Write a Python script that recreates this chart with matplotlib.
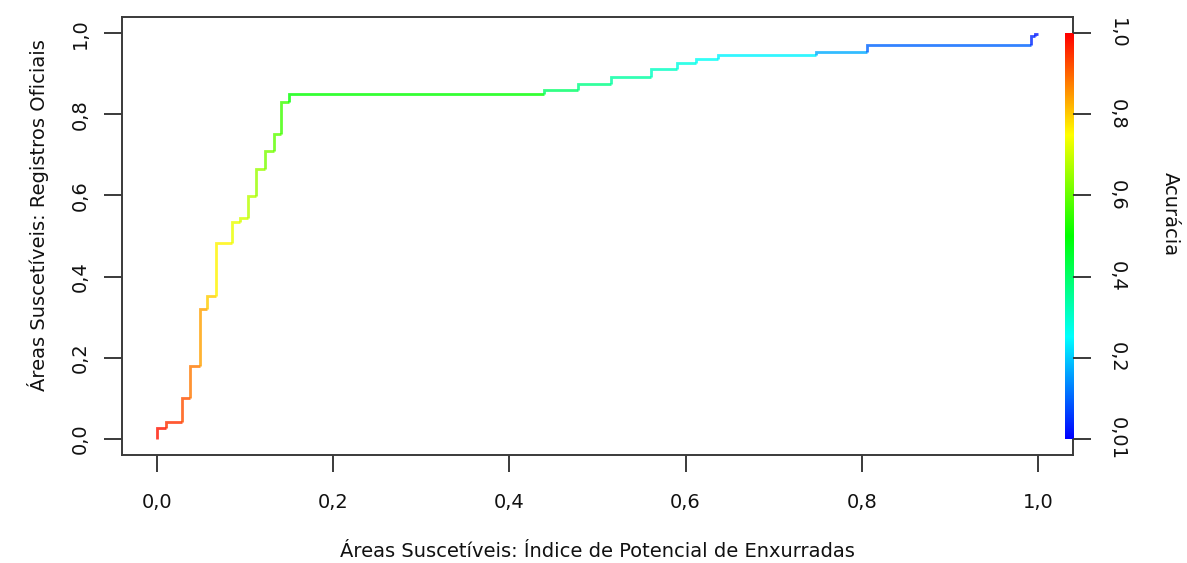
import numpy as np
import matplotlib
matplotlib.use("Agg")
import matplotlib.pyplot as plt
from matplotlib.collections import LineCollection
from matplotlib.colors import ListedColormap, Normalize, hsv_to_rgb

plt.rcParams['font.family'] = ['DejaVu Sans']

# pontos da curva (x onde sobe o degrau, y depois do degrau, acuracia do ponto)
fpr = [0.0, 0.0102, 0.0284, 0.0378, 0.0484, 0.0574, 0.0665, 0.0851, 0.0946,
       0.1033, 0.1127, 0.1229, 0.1324, 0.1411, 0.1494, 0.4396, 0.4774, 0.5153,
       0.5611, 0.5902, 0.6118, 0.6368, 0.748, 0.806, 0.992, 0.9966, 1.0]
tpr = [0.0265, 0.041, 0.1016, 0.180, 0.320, 0.353, 0.483, 0.535, 0.545,
       0.599, 0.665, 0.709, 0.752, 0.830, 0.8495, 0.859, 0.874, 0.892,
       0.911, 0.926, 0.936, 0.946, 0.954, 0.971, 0.992, 0.998, 0.998]
acuracia = [0.98, 0.95, 0.92, 0.88, 0.84, 0.80, 0.76, 0.73, 0.71,
            0.68, 0.65, 0.62, 0.59, 0.56, 0.50, 0.40, 0.37, 0.34,
            0.31, 0.28, 0.26, 0.24, 0.17, 0.10, 0.04, 0.02, 0.01]

xticks = [0.0, 0.2, 0.4, 0.6, 0.8, 1.0]
xticklabels = ["0,0", "0,2", "0,4", "0,6", "0,8", "1,0"]
yticks = [0.0, 0.2, 0.4, 0.6, 0.8, 1.0]
yticklabels = ["0,0", "0,2", "0,4", "0,6", "0,8", "1,0"]
cbar_labels = ["0,01", "0,2", "0,4", "0,6", "0,8", "1,0"]

# paleta arco-iris (vermelho -> azul), como rainbow(end=4/6) do R
h = np.linspace(2 / 3, 0, 256)
cmap = ListedColormap(hsv_to_rgb(np.column_stack([h, np.ones(256), np.ones(256)])))
norm = Normalize(0, 1)

# montar segmentos em degrau
segs = []
cols = []
y_prev = 0.0
for i in range(len(fpr)):
    x_next = fpr[i + 1] if i + 1 < len(fpr) else fpr[i]
    segs.append([(fpr[i], y_prev), (fpr[i], tpr[i]), (x_next, tpr[i])])
    cols.append(acuracia[i])
    y_prev = tpr[i]

fig = plt.figure(figsize=(11.87, 5.63), dpi=100)
ax = fig.add_axes([0.1025, 0.1918, 0.8017, 0.778])

lc = LineCollection(segs, cmap=cmap, norm=norm, linewidths=2.0, alpha=0.8,
                    capstyle='butt', joinstyle='miter')
lc.set_array(np.array(cols))
ax.add_collection(lc)

ax.set_xlim(-0.04, 1.04)
ax.set_ylim(-0.04, 1.04)

cor = '#3a3a3a'
for s in ax.spines.values():
    s.set_color(cor)
    s.set_linewidth(1.4)

ax.set_xticks(xticks)
ax.set_xticklabels(xticklabels)
ax.set_yticks(yticks)
ax.set_yticklabels(yticklabels, rotation=90, va='center')
ax.tick_params(axis='x', length=12, width=1.4, color=cor, pad=15, labelsize=14, labelcolor='#111111')
ax.tick_params(axis='y', length=13, width=1.4, color=cor, pad=10, labelsize=14, labelcolor='#111111')

ax.set_xlabel("Áreas Suscetíveis: Índice de Potencial de Enxurradas", fontsize=14, color='#111111', labelpad=22)
ax.set_ylabel("Áreas Suscetíveis: Registros Oficiais", fontsize=14, color='#111111')
ax.yaxis.set_label_coords(-0.076, 0.548)

# barra de cores dentro do grafico, a direita
cax = ax.inset_axes([1.031, 0.0, 0.0094, 1.0], transform=ax.transData)
grad = np.linspace(0, 1, 256).reshape(-1, 1)
cax.imshow(grad, aspect='auto', cmap=cmap, norm=norm, origin='lower', extent=[0, 1, 0, 1])
cax.set_axis_off()

ax2 = ax.twinx()
ax2.set_ylim(ax.get_ylim())
ax2.set_yticks(yticks)
ax2.set_yticklabels(cbar_labels, rotation=270, va='center')
ax2.tick_params(axis='y', length=13, width=1.4, color=cor, pad=12, labelsize=14, labelcolor='#111111')
for s in ax2.spines.values():
    s.set_visible(False)
ax2.set_ylabel("Acurácia", rotation=270, fontsize=14, color='#111111')
ax2.yaxis.set_label_coords(1.112, 0.55)

fig.savefig("out.png", dpi=100)
